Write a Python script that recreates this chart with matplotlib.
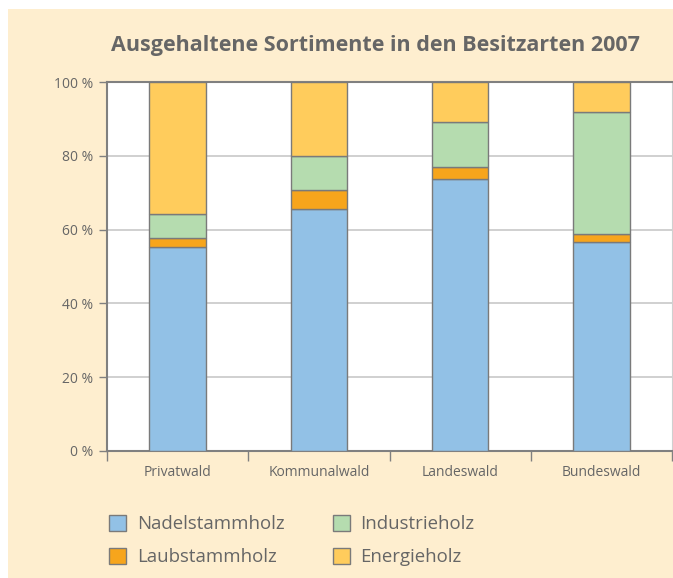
import numpy as np
import matplotlib
matplotlib.use("Agg")
import matplotlib.pyplot as plt
from matplotlib.patches import Patch, Rectangle

# ---- data (percent shares per ownership type) ----
categories = ["Privatwald", "Kommunalwald", "Landeswald", "Bundeswald"]
nadelstammholz = [55.4, 65.5, 73.7, 56.6]
laubstammholz = [2.2, 5.2, 3.3, 2.2]
industrieholz = [6.6, 9.2, 12.2, 33.2]
energieholz = [35.8, 20.1, 10.8, 8.0]
series_names = ["Nadelstammholz", "Laubstammholz", "Industrieholz", "Energieholz"]
colors = ["#92C1E6", "#F7A51C", "#B5DCAF", "#FFCC5C"]

plt.rcParams["font.family"] = ["Open Sans", "DejaVu Sans"]
grey = "#666666"

fig = plt.figure(figsize=(6.73, 5.78), dpi=100)
# beige panel behind everything
fig.patches.append(Rectangle((8 / 673, 0), 1, 1 - 9 / 578, transform=fig.transFigure,
                             facecolor="#FEEECF", edgecolor="none", zorder=-10))

ax = fig.add_axes([107 / 673, 1 - 451 / 578, 565 / 673, 369 / 578])
ax.set_facecolor("white")

x = np.arange(len(categories)) + 0.5
bottom = np.zeros(len(categories))
for vals, name, col in zip([nadelstammholz, laubstammholz, industrieholz, energieholz],
                           series_names, colors):
    ax.bar(x, vals, width=0.4, bottom=bottom, color=col, edgecolor="#7A7A7A",
           linewidth=1.0, label=name, zorder=3)
    bottom += np.array(vals)

ax.set_xlim(0, len(categories))
ax.set_ylim(0, 100)

# y axis
ax.set_yticks([0, 20, 40, 60, 80, 100])
ax.set_yticklabels([f"{v} %" for v in [0, 20, 40, 60, 80, 100]])
ax.yaxis.grid(True, color="#C8C8C8", linewidth=1.2, zorder=0)
ax.tick_params(axis="y", length=6, width=1, color="#808080", labelcolor=grey,
               labelsize=10, pad=4)

# x axis: ticks at category boundaries, labels in centres
ax.set_xticks(np.arange(len(categories) + 1))
ax.set_xticklabels([])
ax.set_xticks(x, minor=True)
ax.set_xticklabels(categories, minor=True)
ax.tick_params(axis="x", which="major", length=7, width=1, color="#808080")
ax.tick_params(axis="x", which="minor", length=0, labelcolor=grey, labelsize=10, pad=10)

for side in ["left", "bottom", "top"]:
    ax.spines[side].set_color("#808080")
    ax.spines[side].set_linewidth(1.5)
ax.spines["right"].set_color("#D0D0D0")

fig.text(375 / 673, 1 - 46 / 578, "Ausgehaltene Sortimente in den Besitzarten 2007",
         ha="center", va="center", fontsize=15.5, fontweight="bold", color=grey)

handles = [Patch(facecolor=c, edgecolor="#7A7A7A", label=n) for c, n in zip(colors, series_names)]
leg = fig.legend(handles=handles, ncol=2, loc="upper left",
                 bbox_to_anchor=(92 / 673, 1 - 498 / 578), frameon=False,
                 fontsize=13.4, handlelength=0.95, handleheight=0.95, handletextpad=0.55,
                 columnspacing=2.6, labelspacing=0.8)
for t in leg.get_texts():
    t.set_color(grey)

fig.savefig("out.png", dpi=100)
